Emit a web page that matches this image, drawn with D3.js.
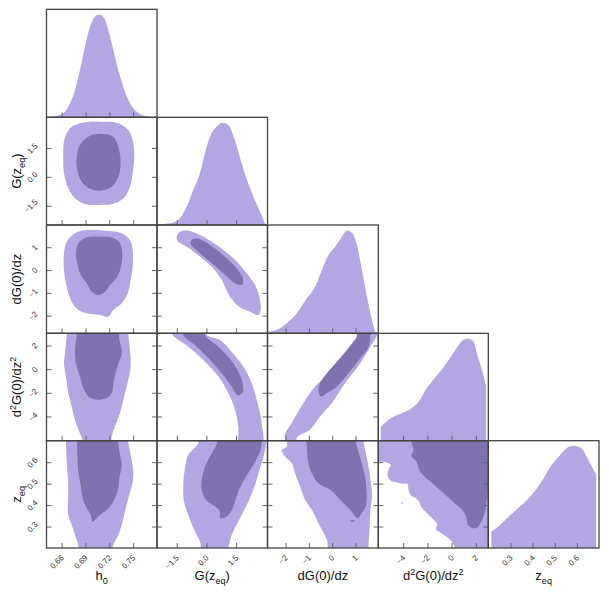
<!DOCTYPE html>
<html><head><meta charset="utf-8">
<script src="https://cdn.jsdelivr.net/npm/d3@7"></script>
<style>body{margin:0;background:#fff}</style>
</head><body><svg id="c" width="609" height="596"></svg>
<script>
// ---------------- data ----------------
const params = ["h0", "G", "dG", "d2G", "zeq"];
const domains = {h0: [0.641, 0.780], G: [-2.5, 3.09], dG: [-2.775, 1.975], d2G: [-6.05, 3.03], zeq: [0.2, 0.7]};
const tickValues = {h0: [0.66, 0.69, 0.72, 0.75], G: [-1.5, 0, 1.5], dG: [-2, -1, 0, 1], d2G: [-4, -2, 0, 2], zeq: [0.3, 0.4, 0.5, 0.6]};
const tickLabels = {h0: ["0.66", "0.69", "0.72", "0.75"], G: ["−1.5", "0.0", "1.5"], dG: ["−2", "−1", "0", "1"], d2G: ["−4", "−2", "0", "2"], zeq: ["0.3", "0.4", "0.5", "0.6"]};
const axisLabels = {
  h0: [{t: "h"}, {t: "0", sub: true}],
  G: [{t: "G(z"}, {t: "eq", sub: true}, {t: ")"}],
  dG: [{t: "dG(0)/dz"}],
  d2G: [{t: "d"}, {t: "2", sup: true}, {t: "G(0)/dz"}, {t: "2", sup: true}],
  zeq: [{t: "z"}, {t: "eq", sub: true}]
};

// 1D marginals (normalised density)
const m_h0_x = [0.641, 0.6496, 0.6621, 0.6706, 0.6769, 0.6831, 0.6894, 0.6957, 0.7020, 0.7074, 0.7124, 0.7187, 0.7250, 0.7313, 0.7376, 0.7439, 0.7502, 0.7586, 0.7690, 0.7796];
const m_h0_d = [0, 0.006, 0.039, 0.136, 0.265, 0.459, 0.686, 0.880, 0.978, 1.0, 0.978, 0.848, 0.654, 0.460, 0.298, 0.168, 0.087, 0.032, 0.006, 0];
const m_G_x = [-2.485, -1.843, -1.424, -1.0, -0.667, -0.328, -0.076, 0.177, 0.515, 0.818, 1.101, 1.439, 1.778, 2.111, 2.449, 2.788, 2.955, 3.08];
const m_G_d = [0.007, 0.017, 0.049, 0.178, 0.341, 0.504, 0.699, 0.861, 0.958, 0.997, 0.975, 0.828, 0.601, 0.406, 0.244, 0.097, 0.017, 0];
const m_dG_x = [-2.741, -2.379, -1.950, -1.520, -1.090, -0.733, -0.445, -0.161, 0.127, 0.415, 0.630, 0.845, 1.060, 1.275, 1.490, 1.705, 1.847, 1.91];
const m_dG_d = [0.016, 0.032, 0.097, 0.194, 0.339, 0.452, 0.614, 0.759, 0.840, 0.937, 0.995, 0.976, 0.856, 0.614, 0.355, 0.129, 0.016, 0];
const m_d2G_x = [-5.853, -5.228, -4.537, -3.994, -3.303, -2.621, -2.070, -1.527, -0.836, -0.154, 0.397, 0.940, 1.351, 1.762, 2.174, 2.585, 2.832];
const m_d2G_d = [0.134, 0.202, 0.251, 0.274, 0.317, 0.398, 0.512, 0.593, 0.691, 0.805, 0.903, 0.984, 1.0, 0.978, 0.821, 0.659, 0.544];
const m_zeq_x = [0.2136, 0.238, 0.2833, 0.3285, 0.3738, 0.419, 0.4489, 0.4792, 0.5167, 0.5548, 0.5846, 0.6226, 0.6525, 0.6873];
const m_zeq_d = [0.161, 0.198, 0.289, 0.380, 0.468, 0.582, 0.679, 0.792, 0.890, 0.978, 1.0, 0.972, 0.858, 0.716];

// 2D contours: [x, y] in data units; "light" = 95%, "dark" = 68%
const c_h0_G_light = [[.7083,2.862],[.7293,2.810],[.7439,2.431],[.7502,1.741],[.7514,1.045],[.7494,.184],[.7460,-.512],[.7397,-1.030],[.7272,-1.373],[.7083,-1.461],[.6894,-1.409],[.6769,-1.113],[.6684,-.594],[.6630,.184],[.6621,1.045],[.6634,1.912],[.6706,2.519],[.6831,2.779],[.6957,2.862]];
const c_h0_G_dark = [[.7124,2.223],[.7250,2.083],[.7313,1.564],[.7343,.703],[.7313,.008],[.7230,-.511],[.7083,-.719],[.6957,-.615],[.6853,-.252],[.6797,.355],[.6790,1.045],[.6831,1.653],[.6936,2.083],[.7020,2.208]];
const c_h0_dG_light = [[.6957,1.756],[.7167,1.725],[.7356,1.611],[.7460,1.317],[.7494,.879],[.7494,.146],[.7469,-.437],[.7439,-.950],[.7356,-1.459],[.7250,-1.753],[.7187,-2.047],[.7083,-1.972],[.6957,-1.928],[.6810,-1.753],[.6727,-1.389],[.6664,-.731],[.6630,.001],[.6630,.734],[.6664,1.243],[.6768,1.611],[.6853,1.725]];
const c_h0_dG_dark = [[.7062,1.462],[.7230,1.436],[.7334,1.172],[.7363,.734],[.7347,.146],[.7301,-.293],[.7209,-.657],[.7146,-.950],[.7062,-1.095],[.6979,-.950],[.6916,-.582],[.6840,-.218],[.6797,.295],[.6781,.734],[.6810,1.172],[.6916,1.436]];
const c_G_dG_light = [[-1.504,1.462],[-1.337,1.681],[-.917,1.725],[-.325,1.536],[.514,1.098],[1.359,.514],[2.037,-.143],[2.508,-.731],[2.710,-1.314],[2.745,-1.753],[2.624,-1.972],[2.204,-1.828],[1.698,-1.635],[1.192,-1.170],[.773,-.437],[.267,.146],[-.325,.585],[-.998,1.023],[-1.423,1.243]];
const c_G_dG_dark = [[-.745,1.317],[-.492,1.392],[.181,1.098],[1.026,.514],[1.612,-.019],[1.865,-.437],[1.784,-.657],[1.445,-.582],[.854,-.143],[.181,.365],[-.411,.804],[-.795,1.142]];
const c_h0_d2G_light = [[.6664,3.47],[.6664,2.877],[.6643,1.339],[.6630,.499],[.6655,-.627],[.6684,-2.022],[.6727,-3.148],[.6768,-4.266],[.6810,-5.106],[.6853,-5.803],[.6869,-6.45],[.7209,-6.45],[.7230,-5.669],[.7272,-4.829],[.7335,-3.703],[.7397,-2.022],[.7439,-.904],[.7469,.213],[.7460,1.617],[.7439,2.877],[.7439,3.47]];
const c_h0_d2G_dark = [[.6797,3.47],[.6790,2.877],[.6768,1.339],[.6790,.213],[.6831,-.627],[.6873,-1.602],[.6936,-2.308],[.7041,-2.585],[.7167,-2.442],[.7230,-2.022],[.7259,-.904],[.7301,.213],[.7356,1.339],[.7326,2.457],[.7301,3.47]];
const c_G_d2G_light = [[-1.706,3.47],[-1.706,2.877],[-.917,1.894],[-.072,.634],[.601,-.627],[1.107,-2.022],[1.445,-3.425],[1.612,-4.829],[1.698,-6.45],[2.811,-6.45],[2.796,-4.543],[2.710,-3.703],[2.543,-2.585],[2.290,-1.182],[1.865,.213],[1.278,1.474],[.687,2.457],[.014,2.877],[.014,3.47]];
const c_G_d2G_dark = [[-1.170,3.47],[-1.170,2.877],[-.492,1.894],[.181,.776],[.773,-.341],[1.278,-1.467],[1.583,-2.207],[1.835,-1.997],[1.784,-.904],[1.359,.499],[.687,1.760],[-.072,2.877],[-.072,3.47]];
const c_dG_d2G_light = [[.987,3.47],[1.060,2.734],[.845,2.180],[.342,.919],[-.230,-.484],[-.733,-1.467],[-1.236,-2.862],[-1.735,-4.543],[-2.023,-5.526],[-1.937,-6.45],[-1.507,-6.45],[-1.520,-5.803],[-.948,-5.106],[-.518,-3.988],[-.015,-2.862],[.557,-1.182],[1.202,.499],[1.632,1.894],[1.920,2.877],[1.920,3.47]];
const c_dG_d2G_dark = [[1.060,3.47],[1.060,2.793],[.699,1.760],[.269,.776],[-.230,-.341],[-.518,-1.182],[-.591,-1.887],[-.475,-2.308],[-.230,-2.022],[.200,-1.467],[.699,-.341],[1.202,.919],[1.559,1.894],[1.632,2.793],[1.632,3.47]];
const c_h0_zeq_light = [[.6655,.731],[.6655,.695],[.6664,.602],[.6684,.494],[.6684,.354],[.6727,.308],[.6769,.261],[.6810,.215],[.6819,.173],[.7234,.173],[.7250,.215],[.7313,.261],[.7356,.308],[.7397,.370],[.7439,.432],[.7494,.509],[.7502,.556],[.7469,.633],[.7439,.695],[.7439,.731]];
const c_h0_zeq_dark = [[.6794,.731],[.6794,.695],[.6797,.633],[.6810,.556],[.6840,.494],[.6865,.432],[.6916,.386],[.6966,.354],[.6991,.322],[.7020,.331],[.7083,.354],[.7167,.378],[.7250,.416],[.7313,.479],[.7326,.525],[.7356,.587],[.7334,.633],[.7313,.695],[.7313,.731]];
const c_G_zeq_light = [[-.411,.731],[-.411,.688],[-.917,.633],[-1.084,.572],[-1.170,.494],[-1.134,.416],[-.917,.354],[-.664,.293],[-.325,.230],[-.173,.173],[.940,.173],[1.278,.261],[1.698,.339],[2.118,.416],[2.457,.494],[2.710,.572],[2.912,.633],[3.013,.688],[3.013,.731]];
const c_G_zeq_dark = [[.535,.731],[.535,.689],[.181,.626],[-.072,.579],[-.239,.517],[-.239,.471],[-.021,.424],[.434,.394],[.661,.373],[.712,.339],[1.026,.347],[1.294,.378],[1.612,.463],[1.951,.525],[2.371,.587],[2.710,.649],[2.796,.689],[2.796,.731]];
const c_dG_zeq_light = [[-1.894,.731],[-1.950,.672],[-2.165,.657],[-2.023,.626],[-1.735,.595],[-1.593,.548],[-1.378,.486],[-1.163,.424],[-.875,.378],[-.660,.331],[-.445,.285],[-.230,.238],[-.088,.173],[1.546,.173],[1.559,.215],[1.602,.293],[1.632,.370],[1.705,.447],[1.632,.525],[1.490,.618],[1.344,.695],[1.331,.731]];
const c_dG_zeq_dark = [[-1.034,.731],[-1.077,.657],[-1.021,.595],[-.875,.548],[-.591,.502],[-.088,.471],[.342,.424],[.772,.378],[1.086,.339],[1.275,.364],[1.438,.393],[1.481,.440],[1.417,.527],[1.202,.620],[1.008,.695],[1.008,.731]];
const c_dG_zeq_dark_blob = [[.772,.327],[.871,.331],[.966,.327],[.871,.322]];
const c_d2G_zeq_light = [[-6.486,.731],[2.848,.731],[2.848,.173],[.422,.173],[.258,.207],[-.014,.233],[-.425,.253],[-.976,.273],[-1.305,.289],[-1.181,.308],[-1.552,.336],[-2.004,.361],[-2.481,.389],[-2.703,.417],[-2.950,.432],[-3.361,.445],[-3.542,.468],[-3.649,.499],[-4.019,.499],[-4.553,.506],[-5.088,.516],[-5.293,.543],[-5.170,.570],[-5.006,.587],[-5.376,.599],[-5.828,.603],[-6.486,.603]];
const c_d2G_zeq_light_speck = [[-4.17,.410],[-4.10,.414],[-4.03,.410],[-4.10,.406]];
const c_d2G_zeq_dark = [[-3.279,.731],[-3.279,.689],[-3.155,.654],[-3.303,.627],[-2.909,.603],[-2.621,.559],[-2.070,.525],[-1.346,.490],[-.565,.450],[.258,.409],[.874,.378],[1.220,.343],[1.327,.310],[1.697,.293],[2.108,.296],[2.453,.323],[2.725,.364],[2.848,.401],[2.848,.731]];

// ---------------- drawing ----------------
const LIGHT = "#b3a6e3", DARK = "#7f72ae";
const FONT = "'Liberation Sans', Arial, Helvetica, sans-serif";
const colEdges = [46.5, 157, 267.5, 378.3, 488.3, 599];
const rowEdges = [9.3, 117.3, 225, 333.3, 440.7, 548];
const xs = i => d3.scaleLinear().domain(domains[params[i]]).range([colEdges[i], colEdges[i + 1]]);
const ys = i => d3.scaleLinear().domain(domains[params[i]]).range([rowEdges[i + 1], rowEdges[i]]);

const marginals = [
  {x: m_h0_x, d: m_h0_d}, {x: m_G_x, d: m_G_d}, {x: m_dG_x, d: m_dG_d},
  {x: m_d2G_x, d: m_d2G_d}, {x: m_zeq_x, d: m_zeq_d}
];
const contours = [
  {r: 1, c: 0, light: [c_h0_G_light], dark: [c_h0_G_dark]},
  {r: 2, c: 0, light: [c_h0_dG_light], dark: [c_h0_dG_dark]},
  {r: 2, c: 1, light: [c_G_dG_light], dark: [c_G_dG_dark]},
  {r: 3, c: 0, light: [c_h0_d2G_light], dark: [c_h0_d2G_dark]},
  {r: 3, c: 1, light: [c_G_d2G_light], dark: [c_G_d2G_dark]},
  {r: 3, c: 2, light: [c_dG_d2G_light], dark: [c_dG_d2G_dark]},
  {r: 4, c: 0, light: [c_h0_zeq_light], dark: [c_h0_zeq_dark]},
  {r: 4, c: 1, light: [c_G_zeq_light], dark: [c_G_zeq_dark]},
  {r: 4, c: 2, light: [c_dG_zeq_light], dark: [c_dG_zeq_dark, c_dG_zeq_dark_blob]},
  {r: 4, c: 3, light: [c_d2G_zeq_light, c_d2G_zeq_light_speck], dark: [c_d2G_zeq_dark]}
];

const svg = d3.select("#c");
svg.append("rect").attr("width", 609).attr("height", 596).attr("fill", "#fff");
const defs = svg.append("defs");
function clipFor(r, c) {
  const id = `clip-${r}-${c}`;
  defs.append("clipPath").attr("id", id).append("rect")
    .attr("x", colEdges[c]).attr("y", rowEdges[r])
    .attr("width", colEdges[c + 1] - colEdges[c]).attr("height", rowEdges[r + 1] - rowEdges[r]);
  return `url(#${id})`;
}

// diagonal marginals
marginals.forEach((m, i) => {
  const x = xs(i);
  const y = d3.scaleLinear().domain([0, 1.05]).range([rowEdges[i + 1], rowEdges[i]]);
  const pts = m.x.map((v, k) => [v, m.d[k]]);
  const area = d3.area().x(p => x(p[0])).y0(y(0)).y1(p => y(p[1])).curve(d3.curveMonotoneX);
  svg.append("path").attr("clip-path", clipFor(i, i)).attr("d", area(pts)).attr("fill", LIGHT);
});

// 2D contours
contours.forEach(cc => {
  const x = xs(cc.c), y = ys(cc.r);
  const line = d3.line().x(p => x(p[0])).y(p => y(p[1])).curve(d3.curveCatmullRomClosed.alpha(0.5));
  const g = svg.append("g").attr("clip-path", clipFor(cc.r, cc.c));
  cc.light.forEach(poly => g.append("path").attr("d", line(poly)).attr("fill", LIGHT));
  cc.dark.forEach(poly => g.append("path").attr("d", line(poly)).attr("fill", DARK));
});

// ticks
function styleAxis(g) {
  g.select(".domain").remove();
  g.selectAll(".tick line").attr("stroke", "#666").attr("stroke-width", 1);
  g.selectAll(".tick text").remove();
}
for (let r = 0; r < 5; r++) {
  for (let c = 0; c <= r; c++) {
    const pb = params[c];
    svg.append("g").attr("transform", `translate(0,${rowEdges[r + 1]})`)
      .call(d3.axisBottom(xs(c)).tickValues(tickValues[pb]).tickSize(-5).tickFormat(""))
      .call(styleAxis);
    if (c < r) {
      const pl = params[r];
      svg.append("g").attr("transform", `translate(${colEdges[c]},0)`)
        .call(d3.axisLeft(ys(r)).tickValues(tickValues[pl]).tickSize(-5).tickFormat(""))
        .call(styleAxis);
      svg.append("g").attr("transform", `translate(${colEdges[c + 1]},0)`)
        .call(d3.axisRight(ys(r)).tickValues(tickValues[pl]).tickSize(-5).tickFormat(""))
        .call(styleAxis);
    }
  }
}

// frames
for (let r = 0; r < 5; r++) {
  for (let c = 0; c <= r; c++) {
    svg.append("rect").attr("x", colEdges[c]).attr("y", rowEdges[r])
      .attr("width", colEdges[c + 1] - colEdges[c]).attr("height", rowEdges[r + 1] - rowEdges[r])
      .attr("fill", "none").attr("stroke", "#444").attr("stroke-width", 1.3);
  }
}

// rotated tick labels
const TFS = 8;
function rotLabel(txt, mode, pos) {
  const t = svg.append("text").attr("font-family", FONT).attr("font-size", TFS).attr("fill", "#333")
    .attr("text-anchor", "middle").attr("dominant-baseline", "central").text(txt);
  const w = t.node().getComputedTextLength();
  const W = (w + 0.716 * TFS) * Math.SQRT1_2;
  let cx, cy;
  if (mode === "x") { cx = pos + 3 - W / 2; cy = 554.5 + W / 2; }
  else { cx = 38.5 - W / 2; cy = pos + 0.5; }
  t.attr("transform", `translate(${cx},${cy}) rotate(-45)`);
}
for (let c = 0; c < 5; c++) {
  const p = params[c], x = xs(c);
  tickValues[p].forEach((v, k) => rotLabel(tickLabels[p][k], "x", x(v)));
}
for (let r = 1; r < 5; r++) {
  const p = params[r], y = ys(r);
  tickValues[p].forEach((v, k) => rotLabel(tickLabels[p][k], "y", y(v)));
}

// axis labels
function richText(sel, parts, fs) {
  let shift = 0;
  parts.forEach(pt => {
    const target = pt.sub ? 0.3 * fs : pt.sup ? -0.42 * fs : 0;
    sel.append("tspan").attr("dy", target - shift)
      .attr("font-size", (pt.sub || pt.sup) ? fs * 0.7 : fs).text(pt.t);
    shift = target;
  });
}
const LFS = 13;
for (let c = 0; c < 5; c++) {
  const t = svg.append("text").attr("font-family", FONT).attr("font-size", LFS).attr("fill", "#111")
    .attr("text-anchor", "middle")
    .attr("x", (colEdges[c] + colEdges[c + 1]) / 2).attr("y", 580);
  richText(t, axisLabels[params[c]], LFS);
}
for (let r = 1; r < 5; r++) {
  const cy = (rowEdges[r] + rowEdges[r + 1]) / 2;
  const t = svg.append("text").attr("font-family", FONT).attr("font-size", LFS).attr("fill", "#111")
    .attr("text-anchor", "middle").attr("transform", `translate(21,${cy}) rotate(-90)`);
  richText(t, axisLabels[params[r]], LFS);
}
</script>
</body></html>
